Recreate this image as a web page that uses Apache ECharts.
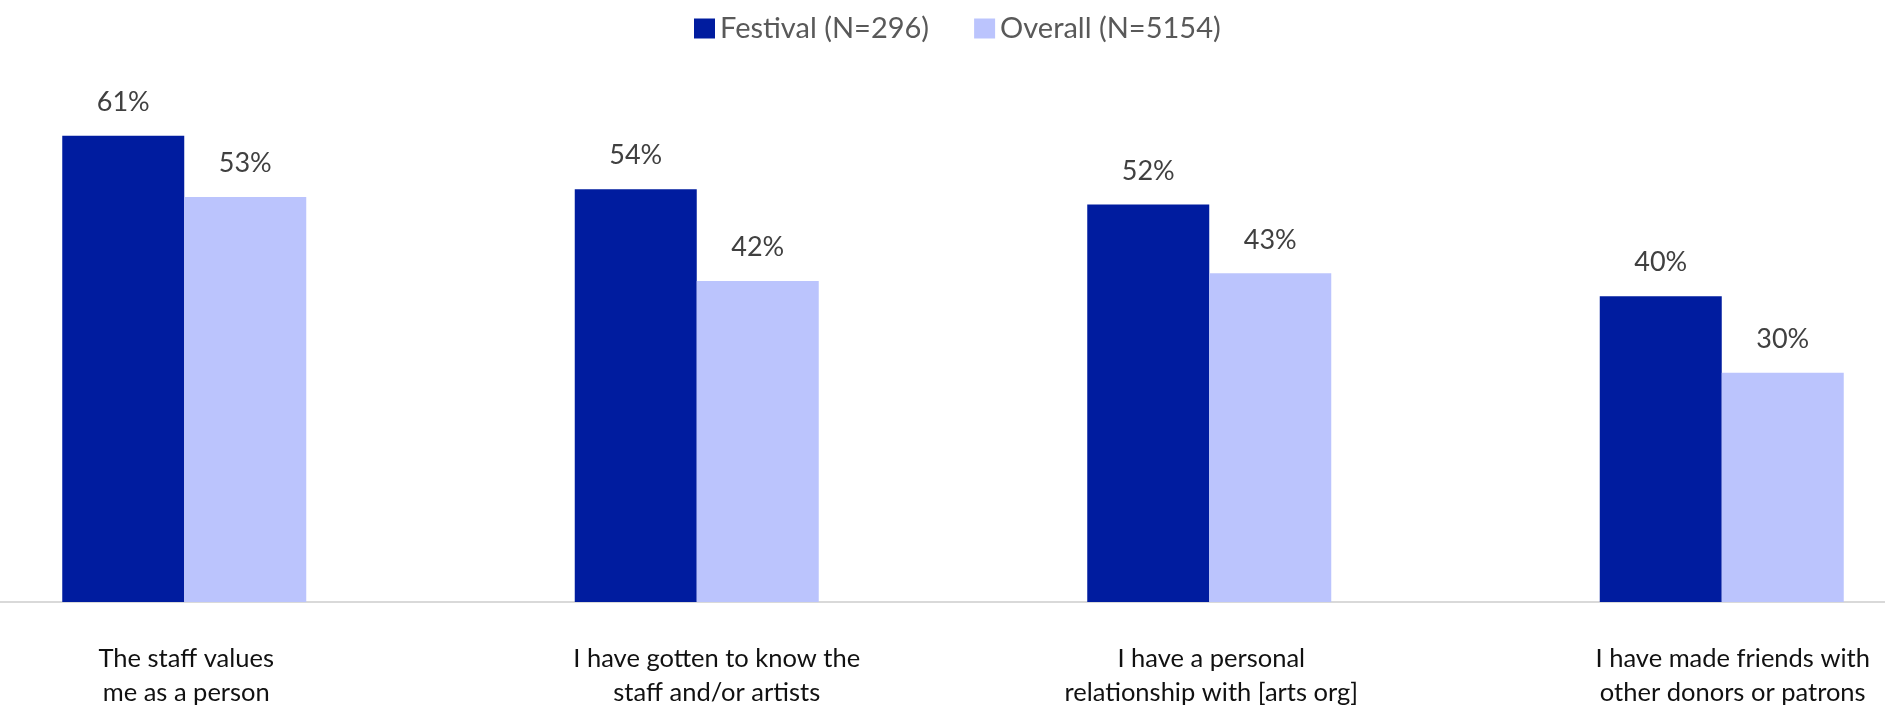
<!DOCTYPE html>
<html>
<head>
<meta charset="utf-8">
<script src="https://cdn.jsdelivr.net/npm/echarts@6/dist/echarts.min.js"></script>
<style>
    html, body { margin: 0; padding: 0; background: #fff; }
    #chart { width: 1885px; height: 715px; }
</style>
</head>
<body>
<div id="chart"></div>
<script>
    // data
    var categories = [
        'The staff values\nme as a person',
        'I have gotten to know the\nstaff and/or artists',
        'I have a personal\nrelationship with [arts org]',
        'I have made friends with\nother donors or patrons'
    ];
    var seriesNames = ['Festival (N=296)', 'Overall (N=5154)'];
    var festivalValues = [61, 54, 52, 40];
    var overallValues = [53, 42, 43, 30];

    (function () {
        var chartDom = document.getElementById('chart');
        var myChart = echarts.init(chartDom);

        // the original labels sit a little right of the bar groups
        var labelShift = [2, 20, 2, 11];
        var axisData = categories.map(function (name, i) {
            return {
                value: name,
                textStyle: { padding: [0, 0, 0, labelShift[i] * 2] }
            };
        });

        var valueLabel = {
            show: true,
            position: 'top',
            distance: 20,
            formatter: '{c}%',
            color: '#404040',
            fontFamily: 'Lato',
            fontSize: 27
        };

        var option = {
            animation: false,
            legend: {
                left: 689,
                top: 9,
                icon: 'rect',
                itemWidth: 21,
                itemHeight: 20,
                itemGap: 45,
                textStyle: {
                    color: '#595959',
                    fontFamily: 'Lato',
                    fontSize: 29
                },
                data: seriesNames
            },
            grid: {
                left: -72,
                right: -93,
                top: 67,
                bottom: 113,
                outerBoundsMode: 'none'
            },
            xAxis: {
                type: 'category',
                data: axisData,
                axisTick: { show: false },
                axisLine: {
                    lineStyle: { color: '#d9d9d9', width: 2 }
                },
                axisLabel: {
                    interval: 0,
                    margin: 40,
                    color: '#111',
                    fontFamily: 'Lato',
                    fontSize: 25.5,
                    lineHeight: 34
                }
            },
            yAxis: {
                type: 'value',
                min: 0,
                max: 70,
                show: false,
                splitLine: { show: false }
            },
            series: [
                {
                    name: seriesNames[0],
                    type: 'bar',
                    barWidth: 122,
                    barGap: '0%',
                    data: festivalValues,
                    itemStyle: { color: '#001c9f' },
                    label: valueLabel
                },
                {
                    name: seriesNames[1],
                    type: 'bar',
                    barWidth: 122,
                    barGap: '0%',
                    data: overallValues,
                    itemStyle: { color: '#bbc4fd' },
                    label: valueLabel
                }
            ]
        };

        option && myChart.setOption(option);
    })();
</script>
</body>
</html>
